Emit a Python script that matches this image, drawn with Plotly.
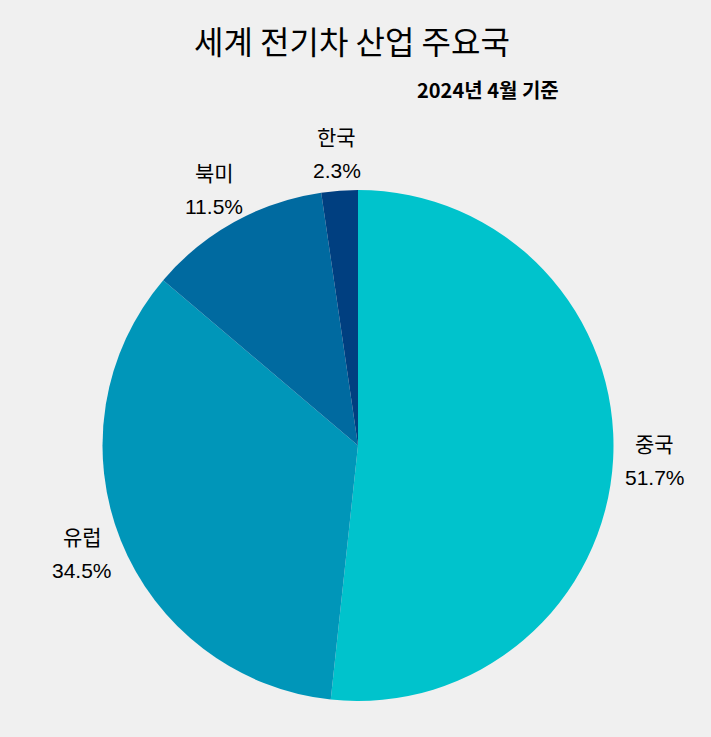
import math
import plotly.graph_objects as go

labels = ["중국", "유럽", "북미", "한국"]
values = [51.7, 34.5, 11.5, 2.3]
colors = ["#00c3cc", "#0096b9", "#006aa0", "#003f80"]

W, H = 711, 737
ML, MR, MT, MB = 102, 97, 190, 36
PW, PH = W - ML - MR, H - MT - MB
R = min(PW, PH) / 2

fig = go.Figure(go.Pie(
    labels=labels,
    values=values,
    sort=False,
    direction="clockwise",
    rotation=0,
    marker=dict(colors=colors, line=dict(width=0)),
    textinfo="none",
    hoverinfo="label+percent",
    showlegend=False,
))

fig.update_layout(
    width=W, height=H,
    paper_bgcolor="#f0f0f0",
    plot_bgcolor="#f0f0f0",
    margin=dict(l=ML, r=MR, t=MT, b=MB, autoexpand=False),
)

# labels outside the pie: anchored just outside the rim at each slice's
# mid-angle, with the text box extending outward
total = sum(values)
cum = 0.0
lab_font = dict(family="Liberation Sans, Noto Sans CJK KR", size=21, color="#000000")
anchor = 1.045 * R
hw, hh = 30, 25
for lab, v in zip(labels, values):
    mid = (cum + v / 2) / total * 2 * math.pi
    cum += v
    s, c = math.sin(mid), math.cos(mid)
    dx = s * anchor + s * hw
    dy = c * anchor + c * hh  # upwards
    xc = 0.5 + dx / PW
    yc = 0.5 + dy / PH
    off = 16.5 / PH
    fig.add_annotation(text=lab, xref="paper", yref="paper", x=xc, y=yc + off,
                       xanchor="center", yanchor="middle", showarrow=False, font=lab_font)
    fig.add_annotation(text=f"{v:.1f}%", xref="paper", yref="paper", x=xc, y=yc - off,
                       xanchor="center", yanchor="middle", showarrow=False, font=lab_font)

fig.add_annotation(text="세계 전기차 산업 주요국", xref="paper", yref="paper",
                   x=(352 - ML) / PW, y=1 + (MT - 40) / PH,
                   xanchor="center", yanchor="middle", showarrow=False,
                   font=dict(family="Noto Sans CJK KR", size=32, color="#000000"))
fig.add_annotation(text="<b>2024년 4월 기준</b>", xref="paper", yref="paper",
                   x=(488 - ML) / PW, y=1 + (MT - 89) / PH,
                   xanchor="center", yanchor="middle", showarrow=False,
                   font=dict(family="Noto Sans CJK KR", size=20, color="#000000"))

fig.write_html("out.html")
